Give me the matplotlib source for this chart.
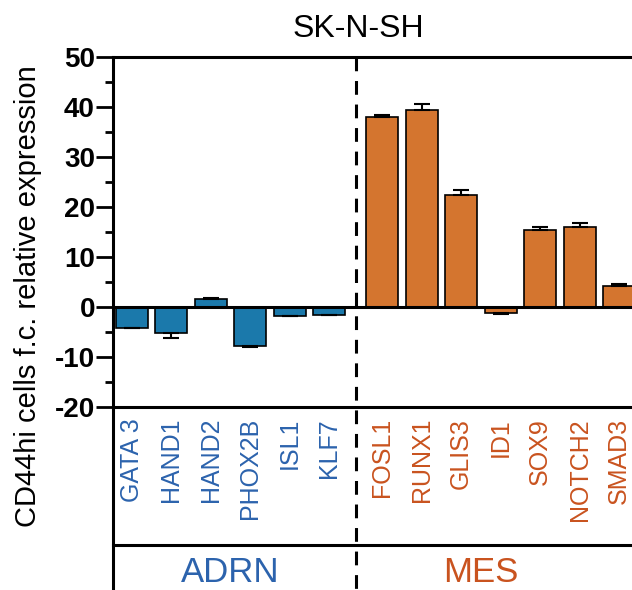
import numpy as np
import matplotlib
matplotlib.use("Agg")
import matplotlib.pyplot as plt
from matplotlib.lines import Line2D
from matplotlib.transforms import blended_transform_factory

plt.rcParams['font.family'] = ['Liberation Sans', 'DejaVu Sans']
plt.rcParams['axes.unicode_minus'] = False

# values (fold change, CD44hi vs CD44lo)
adrn_genes = ["GATA 3", "HAND1", "HAND2", "PHOX2B", "ISL1", "KLF7"]
adrn_vals = [-4.1, -5.2, 1.6, -7.7, -1.7, -1.5]
adrn_err = [0.1, 1.0, 0.3, 0.2, 0.1, 0.1]

mes_genes = ["FOSL1", "RUNX1", "GLIS3", "ID1", "SOX9", "NOTCH2", "SMAD3"]
mes_vals = [38.1, 39.5, 22.5, -1.1, 15.5, 16.0, 4.3]
mes_err = [0.2, 1.2, 0.9, 0.2, 0.5, 0.9, 0.3]

yticks = [-20, -10, 0, 10, 20, 30, 40, 50]

BLUE = "#1b79ab"
ORANGE = "#d4752f"
BLUE_TXT = "#2c63ad"
ORANGE_TXT = "#c9531f"

W, H = 632, 590
fig = plt.figure(figsize=(W / 100, H / 100), dpi=100)

# axes: left spine at x=113px, y=50 at 57px, y=-20 at 407px; runs off the right edge
ax = fig.add_axes([113 / W, (H - 407) / H, 532.5 / W, 350 / H])

gap = 0.33
adrn_x = np.arange(len(adrn_genes))
mes_x = np.arange(len(mes_genes)) + len(adrn_genes) + gap
split_x = len(adrn_genes) - 1 + (1 + gap) / 2


def one_sided(vals, errs):
    vals = np.asarray(vals)
    errs = np.asarray(errs)
    lo = np.where(vals < 0, errs, 0)
    hi = np.where(vals >= 0, errs, 0)
    return [lo, hi]


bw = 0.81
for xs, vals, errs, col in [(adrn_x, adrn_vals, adrn_err, BLUE),
                            (mes_x, mes_vals, mes_err, ORANGE)]:
    ax.bar(xs, vals, width=bw, color=col, edgecolor="black", linewidth=1.2,
           yerr=one_sided(vals, errs), zorder=2,
           error_kw=dict(ecolor="black", elinewidth=1.5, capsize=5.5, capthick=1.5))

ax.axhline(0, color="black", lw=2.2, zorder=3)

ax.set_xlim(-0.48, 13.0)
ax.set_ylim(-20, 50)
ax.set_yticks(yticks)
ax.set_yticks(np.arange(-15, 50, 10), minor=True)
ax.set_xticks([])
ax.tick_params(axis="y", which="major", length=12, width=2, pad=1, labelsize=20)
ax.tick_params(axis="y", which="minor", length=6, width=2)
for lab in ax.get_yticklabels():
    lab.set_fontweight("bold")

ax.spines["right"].set_visible(False)
for s in ["left", "top", "bottom"]:
    ax.spines[s].set_linewidth(2.2)

# dashed separator from the top of the plot down through the label panels
bt = blended_transform_factory(ax.transData, fig.transFigure)
fig.add_artist(Line2D([split_x, split_x], [(H - 57) / H, 0], transform=bt,
                      color="black", lw=2.2, linestyle=(0, (4.5, 3.2)), zorder=5))

# label panel frame
fig.add_artist(Line2D([113 / W, 113 / W], [(H - 407) / H, 0], color="black", lw=2.2))
fig.add_artist(Line2D([113 / W, 1], [(H - 545) / H, (H - 545) / H], color="black", lw=2.2))

# gene names
for xs, genes, col in [(adrn_x, adrn_genes, BLUE_TXT), (mes_x, mes_genes, ORANGE_TXT)]:
    for x, g in zip(xs, genes):
        fig.text(x, (H - 418) / H, g, transform=bt, rotation=90, ha="center",
                 va="top", fontsize=18, color=col)

# group names
fig.text(adrn_x.mean(), (H - 582) / H, "ADRN", transform=bt, ha="center",
         va="baseline", fontsize=25, color=BLUE_TXT)
fig.text(mes_x[:-1].mean(), (H - 582) / H, "MES", transform=bt, ha="center",
         va="baseline", fontsize=25, color=ORANGE_TXT)

fig.text(358 / W, (H - 37) / H, "SK-N-SH", ha="center", va="baseline", fontsize=23)
fig.text(28 / W, (H - 296) / H, "CD44hi cells f.c. relative expression",
         rotation=90, ha="center", va="center", fontsize=21)

fig.savefig("out.png", dpi=100, facecolor="white")
